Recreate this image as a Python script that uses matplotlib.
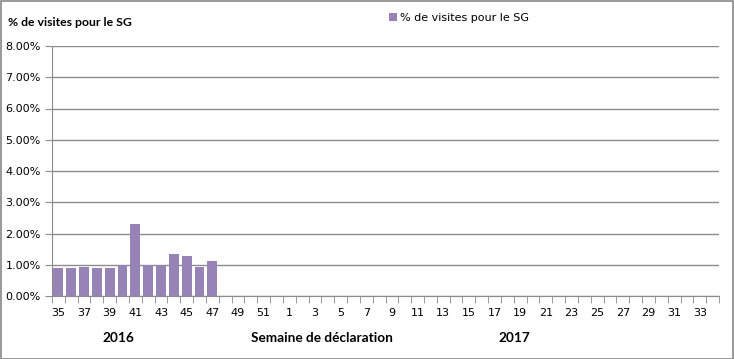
import matplotlib
matplotlib.use("Agg")
import matplotlib.pyplot as plt
from matplotlib.patches import Rectangle
import numpy as np

weeks = list(range(35, 53)) + list(range(1, 35))
values = [0.90, 0.90, 0.935, 0.90, 0.90, 1.00, 2.32, 1.00, 0.99, 1.355, 1.29, 0.935, 1.13]
series_name = "% de visites pour le SG"
yticks = [0, 1, 2, 3, 4, 5, 6, 7, 8]
year_labels = ["2016", "2017"]
xlabel = "Semaine de déclaration"

bar_color = "#9783B5"
grid_color = "#8C8C8C"

fig = plt.figure(figsize=(7.34, 3.59), dpi=100)
ax = fig.add_axes([52/734, 1-296/359, (719-52)/734, (296-46)/359])

x = np.arange(len(weeks))
ax.bar(x[:len(values)], values, width=0.77, color=bar_color, zorder=3, label=series_name)

ax.set_xlim(-0.5, len(weeks) - 0.5)
ax.set_ylim(0, 8)
ax.set_yticks(yticks)
ax.set_yticklabels([f"{v:.2f}%" for v in yticks], fontsize=8, family="DejaVu Sans")
ax.yaxis.grid(True, color=grid_color, linewidth=1, zorder=0)
ax.tick_params(axis="y", length=5, color=grid_color, pad=3)

ax.set_xticks(x[::2])
ax.set_xticklabels([str(w) for w in weeks[::2]], fontsize=8, family="DejaVu Sans")
ax.set_xticks(np.arange(len(weeks) + 1) - 0.5, minor=True)
ax.tick_params(axis="x", which="major", length=0, pad=9)
ax.tick_params(axis="x", which="minor", length=5, color=grid_color)

for s in ["top", "right"]:
    ax.spines[s].set_visible(False)
for s in ["left", "bottom"]:
    ax.spines[s].set_color(grid_color)

bold_font = ["Lato", "DejaVu Sans"]
fig.text(8/734, 1-22/359, series_name, fontsize=8.8, fontweight="bold", family=bold_font, va="center", ha="left")
fig.text(118/734, 1-338/359, year_labels[0], fontsize=9.8, fontweight="bold", family=bold_font, va="center", ha="center")
fig.text(322/734, 1-338/359, xlabel, fontsize=9.8, fontweight="bold", family=bold_font, va="center", ha="center")
fig.text(514/734, 1-338/359, year_labels[1], fontsize=9.8, fontweight="bold", family=bold_font, va="center", ha="center")

leg = fig.legend(loc="center", bbox_to_anchor=(459/734, 1-18/359), frameon=False,
                 handlelength=0.7, handleheight=0.7, handletextpad=0.3, prop={"family": "DejaVu Sans", "size": 8})

fig.patches.append(Rectangle((0.5/734, 0.5/359), 1-1.5/734, 1-1.5/359, transform=fig.transFigure,
                             fill=False, edgecolor="#888888", linewidth=1.2))

fig.savefig("out.png", dpi=100)
